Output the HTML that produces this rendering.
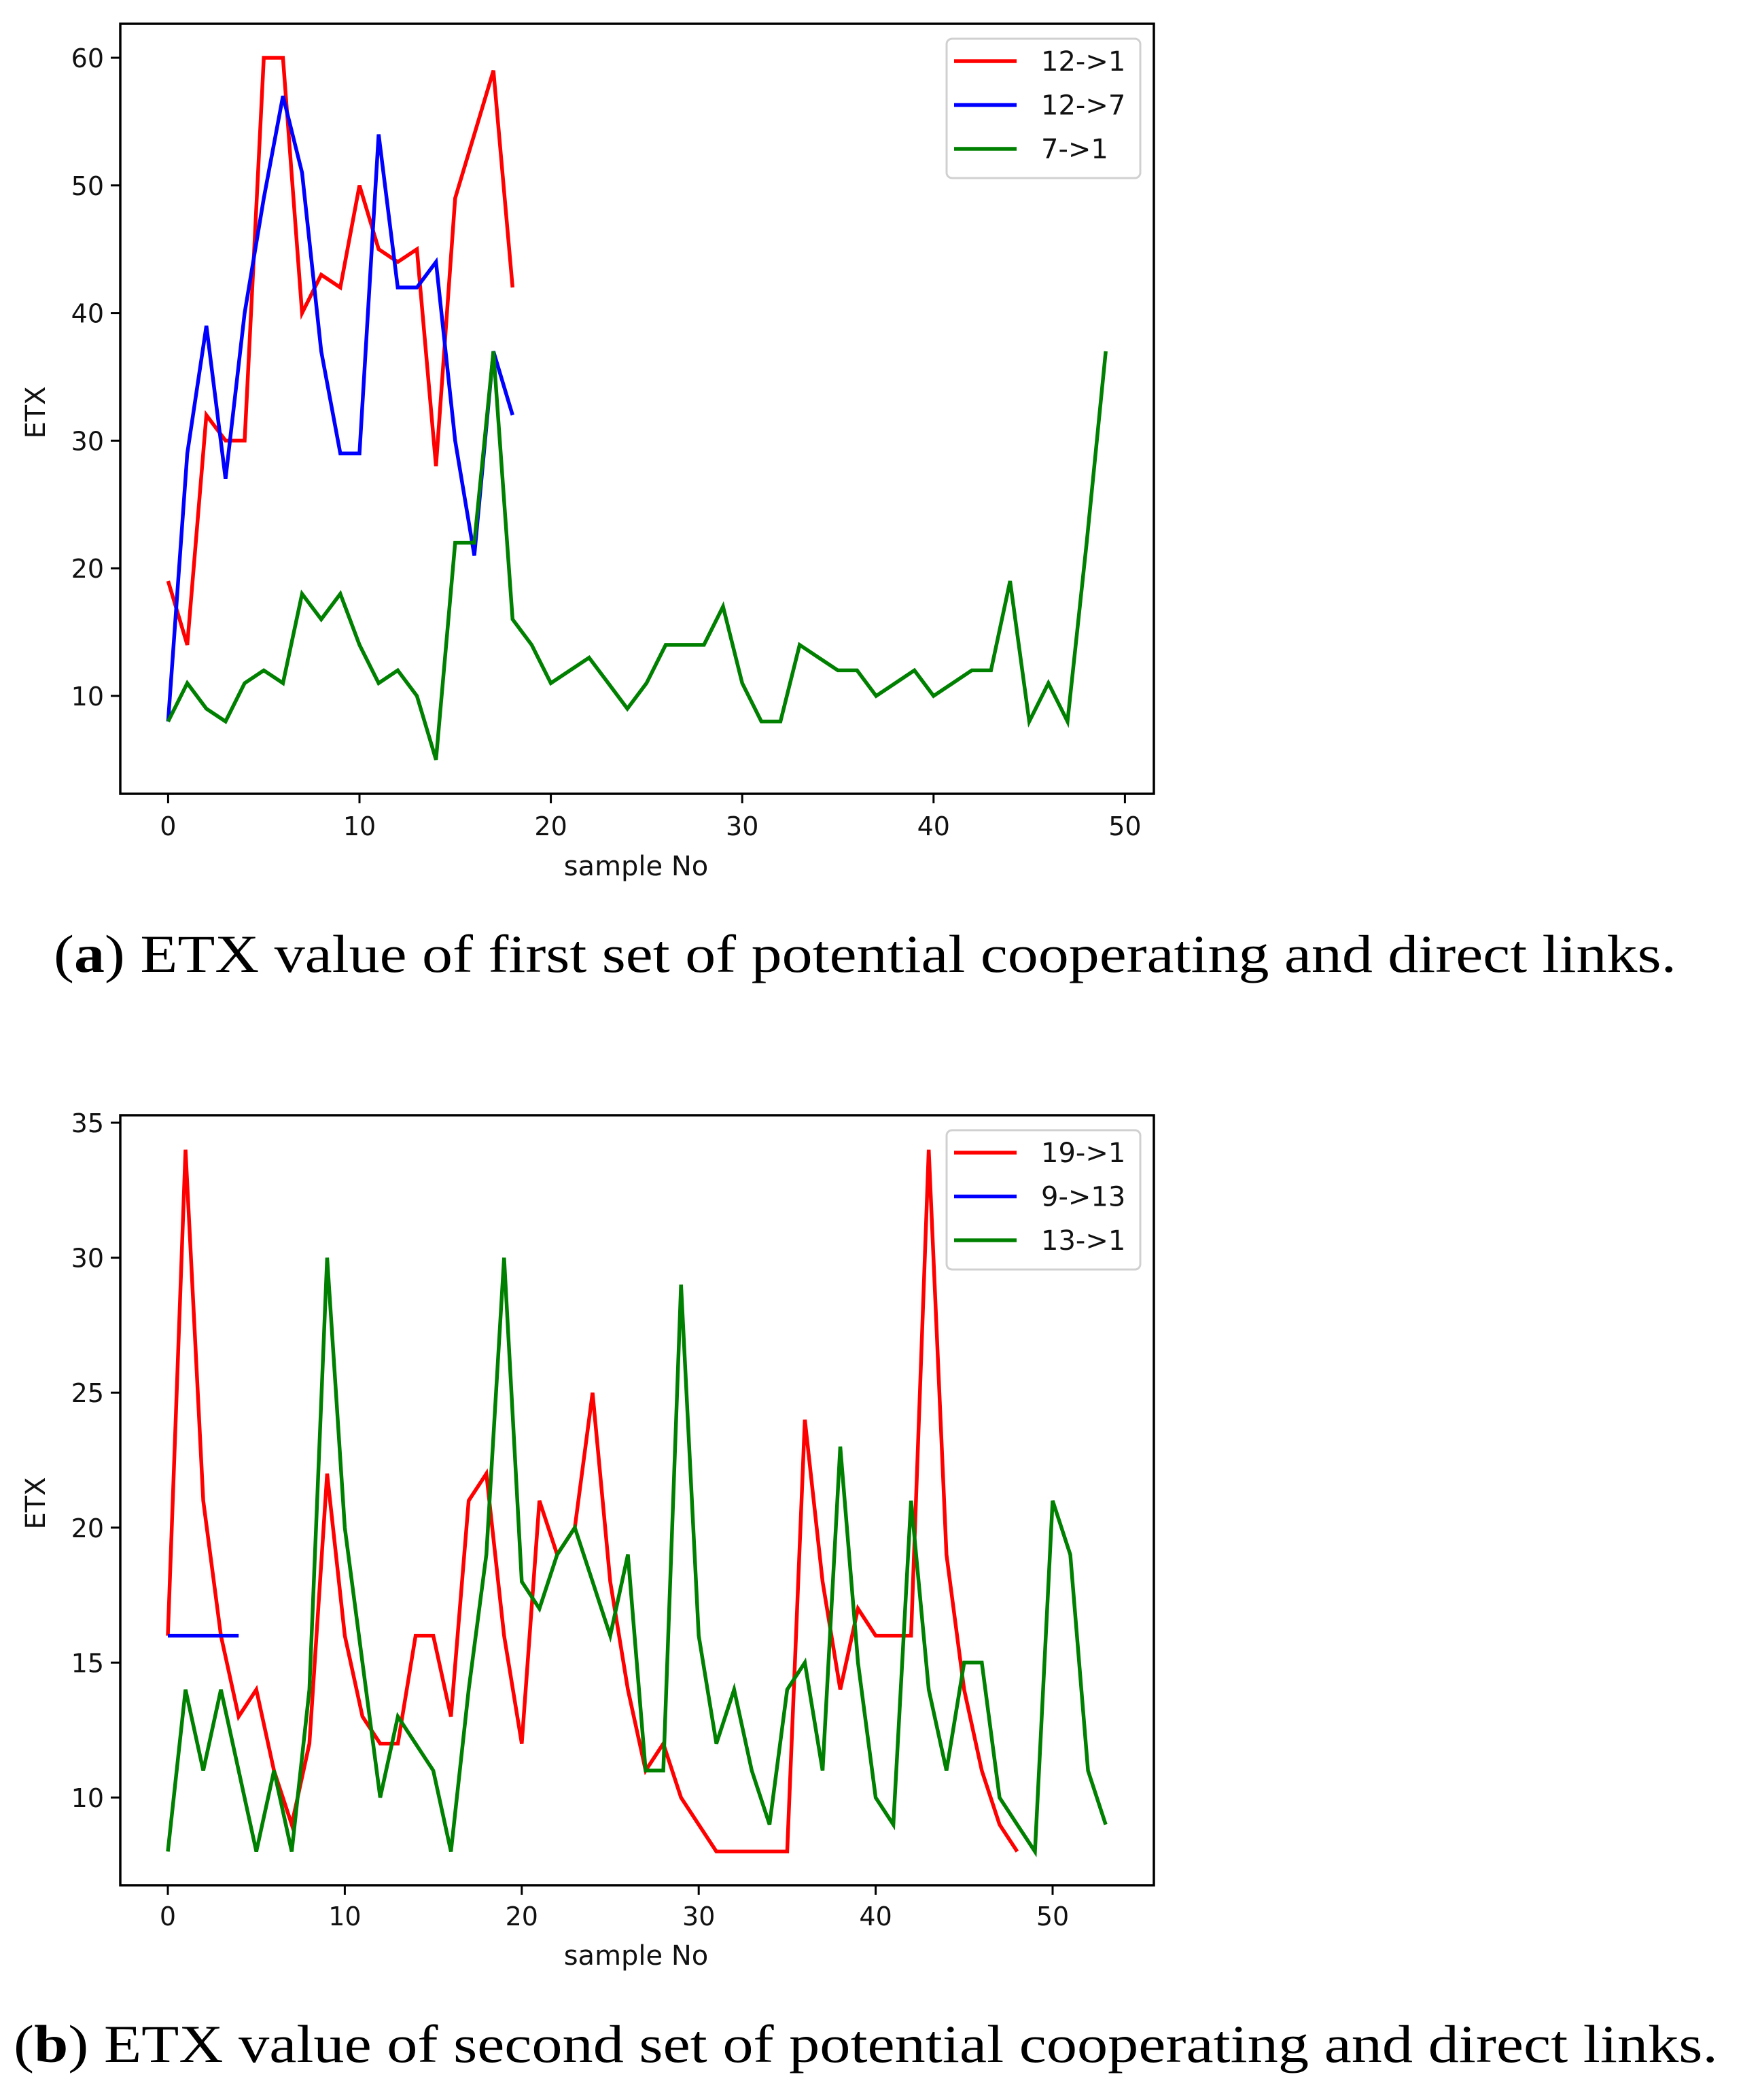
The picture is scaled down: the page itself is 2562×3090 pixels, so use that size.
<!DOCTYPE html>
<html><head><meta charset="utf-8"><style>
html,body{margin:0;padding:0;background:#fff;}
svg{display:block;}
</style></head><body>
<svg id="fig" width="2562" height="3090" viewBox="0 0 2562 3090" xmlns="http://www.w3.org/2000/svg">
<rect width="2562" height="3090" fill="#fff"/>
<text x="79" y="1430" font-family="Liberation Serif, serif" font-size="78" textLength="2388" lengthAdjust="spacingAndGlyphs">(<tspan font-weight="bold">a</tspan>) ETX value of first set of potential cooperating and direct links.</text>
<text x="20" y="3034" font-family="Liberation Serif, serif" font-size="78" textLength="2508" lengthAdjust="spacingAndGlyphs">(<tspan font-weight="bold">b</tspan>) ETX value of second set of potential cooperating and direct links.</text>
</svg>
<script>
// Chart A data
const aX_ticks = [0,10,20,30,40,50];
const aY_ticks = [10,20,30,40,50,60];
const aRed = [19,14,32,30,30,60,60,40,43,42,50,45,44,45,28,49,54,59,42];
const aBlue = [8,29,39,27,40,49,57,51,37,29,29,54,42,42,44,30,21,37,32];
const aGreen = [8,11,9,8,11,12,11,18,16,18,14,11,12,10,5,22,22,37,16,14,11,12,13,11,9,11,14,14,14,17,11,8,8,14,13,12,12,10,11,12,10,11,12,12,19,8,11,8,22,37];
const aLabels = ["12->1","12->7","7->1"];
// Chart B data
const bX_ticks = [0,10,20,30,40,50];
const bY_ticks = [10,15,20,25,30,35];
const bRed = [16,34,21,16,13,14,11,9,12,22,16,13,12,12,16,16,13,21,22,16,12,21,19,20,25,18,14,11,12,10,9,8,8,8,8,8,24,18,14,17,16,16,16,34,19,14,11,9,8];
const bBlue = [16,16,16,16,16];
const bGreen = [8,14,11,14,11,8,11,8,14,30,20,15,10,13,12,11,8,14,19,30,18,17,19,20,18,16,19,11,11,29,16,12,14,11,9,14,15,11,23,15,10,9,21,14,11,15,15,10,9,8,21,19,11,9];
const bLabels = ["19->1","9->13","13->1"];

const NS="http://www.w3.org/2000/svg";
const svg=document.getElementById('fig');
function mk(tag,attrs,parent){const e=document.createElementNS(NS,tag);for(const k in attrs)e.setAttribute(k,attrs[k]);(parent||svg).appendChild(e);return e;}
const FONT="DejaVu Sans, Liberation Sans, sans-serif";
const colors=["#ff0000","#0000ff","#008000"];

function chart(cfg){
  const g=mk('g',{});
  
  
  const L=177,R=1698,T=cfg.top,B=cfg.bottom;
  const xs=v=>cfg.x0+v*cfg.xu;
  const ys=v=>cfg.yRef-(v-cfg.yRefV)*cfg.yu;
  cfg.series.forEach((s,si)=>{
    const p=mk('polyline',{points:s.map((v,i)=>xs(i).toFixed(1)+','+ys(v).toFixed(1)).join(' '),fill:'none',stroke:colors[si],'stroke-width':5.5,'stroke-linejoin':'miter'},g);
    
    
  });
  const fr=mk('rect',{x:L,y:T,width:R-L,height:B-T,fill:'none',stroke:'#000','stroke-width':3.5},g);
  
  
  cfg.xt.forEach(v=>{
    const x=xs(v);
    mk('line',{x1:x,y1:B,x2:x,y2:B+14,stroke:'#000','stroke-width':3},g);
    const t=mk('text',{x:x,y:cfg.xtY,'text-anchor':'middle','font-family':FONT,'font-size':38,fill:'#111'},g);
    t.textContent=v;
    
    
  });
  cfg.yt.forEach(v=>{
    const y=ys(v);
    mk('line',{x1:L-14,y1:y,x2:L,y2:y,stroke:'#000','stroke-width':3},g);
    const t=mk('text',{x:L-24,y:y+14,'text-anchor':'end','font-family':FONT,'font-size':38,fill:'#111'},g);
    t.textContent=v;
    
    
  });
  const xl=mk('text',{x:936,y:cfg.xlY,'text-anchor':'middle','font-family':FONT,'font-size':40,fill:'#111'},g);
  xl.textContent='sample No';
  
  
  const yl=mk('text',{x:0,y:0,'text-anchor':'middle','font-family':FONT,'font-size':40,fill:'#111',transform:'translate(66,'+cfg.ylY+') rotate(-90)'},g);
  yl.textContent='ETX';
  
  
  const lg=mk('g',{},g);
  
  
  mk('rect',{x:1393,y:cfg.lgTop,width:285,height:205,rx:8,fill:'#fff','fill-opacity':0.8,stroke:'#d0d0d0','stroke-width':3},lg);
  cfg.labels.forEach((lab,i)=>{
    const y=cfg.lgTop+33+i*64.5;
    mk('line',{x1:1404,y1:y,x2:1496,y2:y,stroke:colors[i],'stroke-width':5.5},lg);
    const t=mk('text',{x:1532,y:y+14,'font-family':FONT,'font-size':40,fill:'#111'},lg);
    t.textContent=lab;
    
    
  });
}
chart({name:'chart-a',top:35,bottom:1168,x0:247.4,xu:28.16,yRef:1024,yRefV:10,yu:18.78,
  series:[aRed,aBlue,aGreen],labels:aLabels,xt:aX_ticks,yt:aY_ticks,xtY:1229,xlY:1288,ylY:607,lgTop:57});
chart({name:'chart-b',top:1641,bottom:2774,x0:247,xu:26.04,yRef:2645,yRefV:10,yu:39.72,
  series:[bRed,bBlue,bGreen],labels:bLabels,xt:bX_ticks,yt:bY_ticks,xtY:2833,xlY:2891,ylY:2212,lgTop:1663});
</script>
</body></html>
